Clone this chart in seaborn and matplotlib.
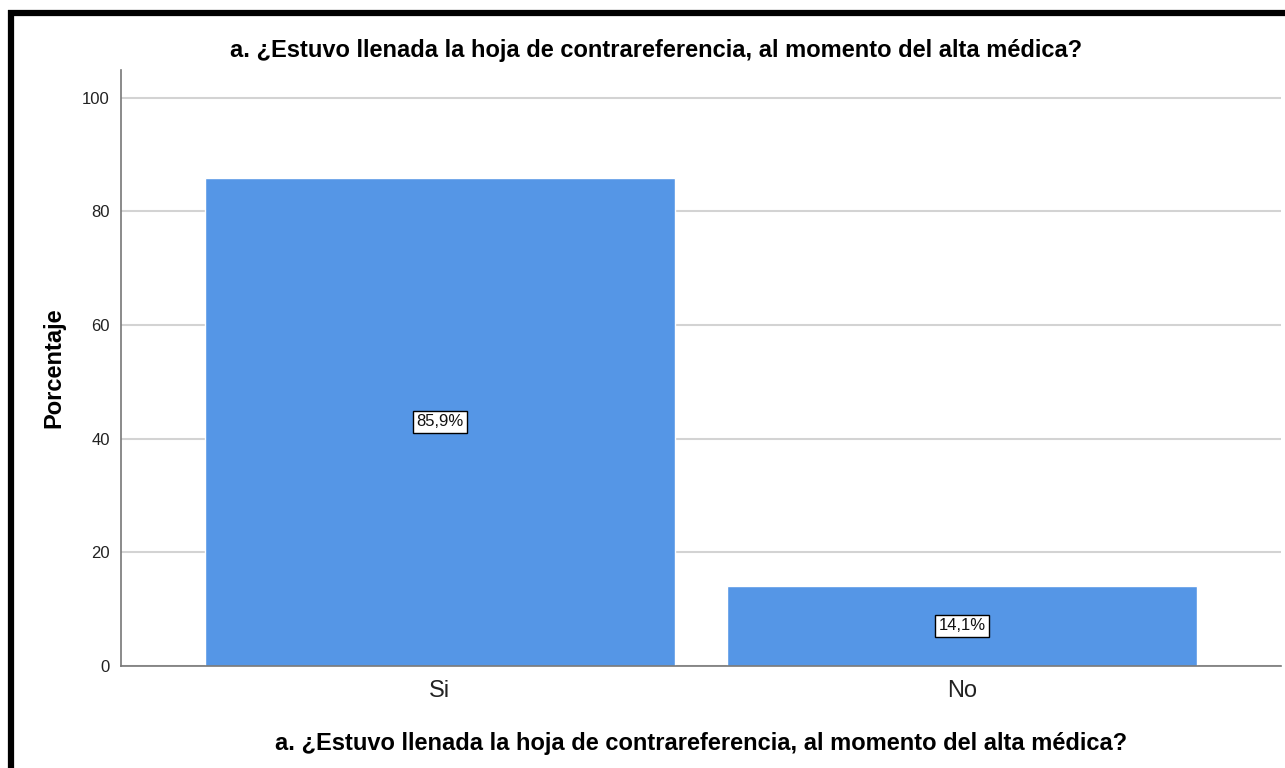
import seaborn as sns
import pandas as pd
import matplotlib.pyplot as plt
from matplotlib.lines import Line2D

categories = ["Si", "No"]
percentages = [85.9, 14.1]
value_labels = ["85,9%", "14,1%"]
question = "a. ¿Estuvo llenada la hoja de contrareferencia, al momento del alta médica?"

df = pd.DataFrame({"respuesta": categories, "pct": percentages})

sns.set_style("white")
plt.rcParams["font.family"] = ["Liberation Sans", "DejaVu Sans"]

fig = plt.figure(figsize=(12.85, 7.68), dpi=100)
ax = fig.add_axes([0.0942, 0.1328, 0.9027, 0.7761])

sns.barplot(data=df, x="respuesta", y="pct", color="#5596e6", saturation=1,
            width=0.9, ax=ax, zorder=2)

ax.set_ylim(0, 104.9)
ax.set_xlim(-0.61, 1.61)
ax.set_yticks([0, 20, 40, 60, 80, 100])
ax.yaxis.grid(True, color="#d3d3d3", linewidth=1.5, zorder=0)
ax.set_axisbelow(True)
ax.tick_params(axis="y", labelsize=12, length=0, pad=8, colors="#222222")
ax.tick_params(axis="x", labelsize=17, length=0, pad=10, colors="#222222")

for side in ["top", "right"]:
    ax.spines[side].set_visible(False)
for side in ["left", "bottom"]:
    ax.spines[side].set_color("#777777")
    ax.spines[side].set_linewidth(1.2)

for i, (v, lab) in enumerate(zip(percentages, value_labels)):
    ax.text(i, v / 2, lab, ha="center", va="center", fontsize=12, color="#111111",
            bbox=dict(boxstyle="square,pad=0.2", facecolor="white", edgecolor="black", linewidth=1))

fig.text(656 / 1285, 1 - 50 / 768, question, ha="center", va="center",
         fontsize=17, fontweight="bold", color="black")
ax.set_xlabel(question, fontsize=17, fontweight="bold", labelpad=22, color="black")
ax.set_ylabel("Porcentaje", fontsize=17, fontweight="bold", labelpad=12, color="black")

# black frame at top/left edge of screenshot
fig.add_artist(Line2D([8 / 1285, 1], [1 - 13 / 768, 1 - 13 / 768], color="black", linewidth=4.5,
                      solid_capstyle="butt", transform=fig.transFigure))
fig.add_artist(Line2D([11 / 1285, 11 / 1285], [0, 1 - 10 / 768], color="black", linewidth=4.5,
                      solid_capstyle="butt", transform=fig.transFigure))

fig.savefig("out.png", dpi=100)
